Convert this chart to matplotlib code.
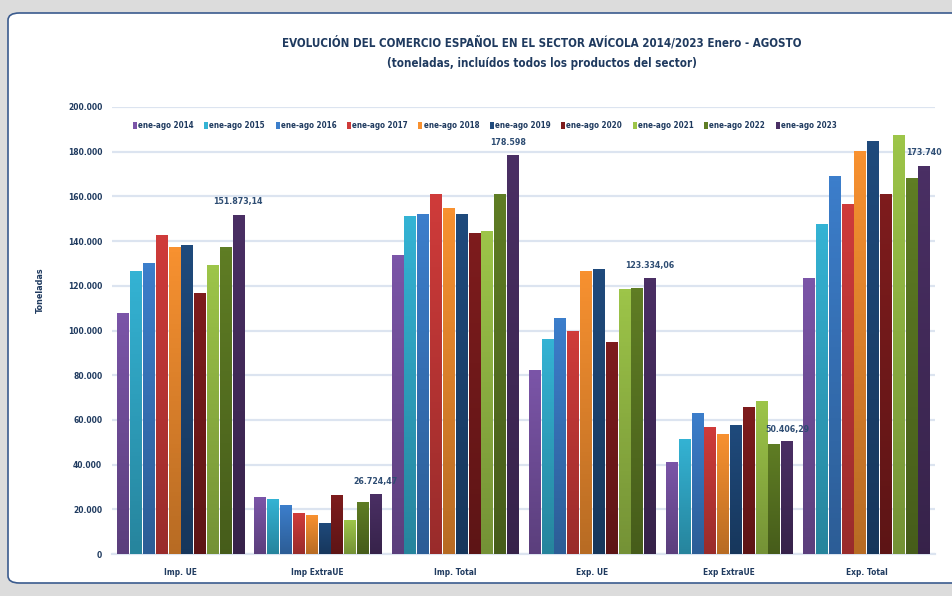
import matplotlib.pyplot as plt
import numpy as np
from matplotlib.patches import FancyBboxPatch
from matplotlib import font_manager
from matplotlib.colors import to_rgb

categories = ['Imp. UE', 'Imp ExtraUE', 'Imp. Total', 'Exp. UE', 'Exp ExtraUE', 'Exp. Total']
series_names = ['ene-ago 2014', 'ene-ago 2015', 'ene-ago 2016', 'ene-ago 2017', 'ene-ago 2018',
                'ene-ago 2019', 'ene-ago 2020', 'ene-ago 2021', 'ene-ago 2022', 'ene-ago 2023']

# values per year, in the order of categories (toneladas)
v2014 = [108000, 25500, 133800, 82300, 41200, 123500]
v2015 = [126800, 24600, 151300, 96200, 51500, 147800]
v2016 = [130000, 21900, 152000, 105700, 63100, 169200]
v2017 = [142600, 18300, 161000, 99800, 56800, 156700]
v2018 = [137300, 17400, 154800, 126800, 53700, 180400]
v2019 = [138200, 13900, 152000, 127500, 57700, 184900]
v2020 = [116700, 26400, 143700, 94900, 65800, 161200]
v2021 = [129500, 15200, 144600, 118700, 68500, 187600]
v2022 = [137500, 23300, 161000, 119000, 49200, 168300]
v2023 = [151873.14, 26724.47, 178598, 123334.06, 50406.29, 173740]

labels_2023 = ['151.873,14', '26.724,47', '178.598', '123.334,06', '50.406,29', '173.740']
yticks = [0, 20000, 40000, 60000, 80000, 100000, 120000, 140000, 160000, 180000, 200000]
ytick_labels = ['0', '20.000', '40.000', '60.000', '80.000', '100.000', '120.000',
                '140.000', '160.000', '180.000', '200.000']

colors = ['#7B55A8', '#34B3D4', '#3C7ECB', '#CF3B3A', '#F89130', '#1F4A7C',
          '#7E1C1D', '#9DC549', '#5F7D24', '#4A2F64']

all_values = [v2014, v2015, v2016, v2017, v2018, v2019, v2020, v2021, v2022, v2023]

# narrow bold look if a condensed face is there
condensed = any(f.name == 'DejaVu Sans' and str(f.stretch) == 'condensed'
                for f in font_manager.fontManager.ttflist)
if condensed:
    plt.rcParams['font.family'] = ['DejaVu Sans']
    plt.rcParams['font.stretch'] = 'condensed'
    scale = 1.0
else:
    plt.rcParams['font.family'] = ['Liberation Sans', 'DejaVu Sans']
    scale = 1.05
text_col = '#1F3A5F'

fig = plt.figure(figsize=(9.53, 5.96), dpi=100)
fig.patch.set_facecolor('#DCDCDC')
W, H = 953, 596
panel = FancyBboxPatch((8 / W, 13 / H), 960 / W, 570 / H,
                       boxstyle='round,pad=0,rounding_size=0.012',
                       transform=fig.transFigure, facecolor='white',
                       edgecolor='#3B5B8E', linewidth=1.2, zorder=-10)
fig.patches.append(panel)

ax = fig.add_axes([112 / W, 42 / H, 823 / W, 447 / H])
ax.set_facecolor('none')

n = len(all_values)
x = np.arange(len(categories))
group_w = 0.935
slot = group_w / n
bar_w = slot * 0.88

grad = np.linspace(0.0, 1.0, 64).reshape(-1, 1)
for i, (vals, col) in enumerate(zip(all_values, colors)):
    pos = x - group_w / 2 + slot * (i + 0.5)
    bars = ax.bar(pos, vals, width=bar_w, color=col, zorder=3, label=series_names[i])
    rgb = np.array(to_rgb(col))
    for b in bars:
        # vertical gradient, darker at the bottom
        img = np.ones((64, 1, 4))
        shade = 0.74 + 0.26 * grad
        img[:, :, :3] = rgb[None, None, :] * shade[:, :, None]
        im = ax.imshow(img, extent=[b.get_x(), b.get_x() + b.get_width(), 0, b.get_height()],
                       origin='lower', aspect='auto', zorder=4)
        im.set_clip_path(b)

offsets = [(0, 6), (0, 6), (-3, 6), (0, 6), (0, 5), (0, 6.5)]
last_pos = x - group_w / 2 + slot * (n - 0.5)
for xp, v, lab, off in zip(last_pos, v2023, labels_2023, offsets):
    ax.annotate(lab, (xp, v), xytext=off, textcoords='offset points',
                ha='center', va='bottom', fontsize=6.3 * scale, fontweight='bold',
                color='#2E4D73', zorder=6)

ax.set_xlim(-0.5, len(categories) - 0.5)
ax.set_ylim(0, 200000)
ax.set_yticks(yticks)
ax.set_yticklabels(ytick_labels)
ax.set_xticks(x)
ax.set_xticklabels(categories)
ax.tick_params(axis='both', length=0, labelsize=6.0 * scale, labelcolor=text_col)
for t in ax.get_xticklabels() + ax.get_yticklabels():
    t.set_fontweight('bold')
ax.tick_params(axis='y', pad=7)
ax.tick_params(axis='x', pad=10)
ax.grid(axis='y', color='#DCE4F0', linewidth=1.6, zorder=0)
for s in ['top', 'right', 'left']:
    ax.spines[s].set_visible(False)
ax.spines['bottom'].set_color('#DCE4F0')
ax.spines['bottom'].set_linewidth(1.6)

ax.legend(loc='upper center', bbox_to_anchor=(0.453, 0.985), ncol=10, frameon=False,
          handlelength=0.5, handleheight=0.9, handletextpad=0.15,
          columnspacing=1.3, prop={'weight': 'bold', 'size': 5.8 * scale})
for t in ax.get_legend().get_texts():
    t.set_color(text_col)

fig.text(40 / W, 1 - 290 / H, 'Toneladas', rotation=90, ha='center', va='center',
         fontsize=6.5, fontweight='bold', color=text_col)
fig.text(542 / W, 1 - 43 / H, 'EVOLUCIÓN DEL COMERCIO ESPAÑOL EN EL SECTOR AVÍCOLA 2014/2023 Enero - AGOSTO',
         ha='center', va='center', fontsize=8.3 * scale, fontweight='bold', color=text_col)
fig.text(542 / W, 1 - 64 / H, '(toneladas, incluídos todos los productos del sector)',
         ha='center', va='center', fontsize=8.3 * scale, fontweight='bold', color=text_col)

fig.savefig('out.png', dpi=100, facecolor=fig.get_facecolor())
